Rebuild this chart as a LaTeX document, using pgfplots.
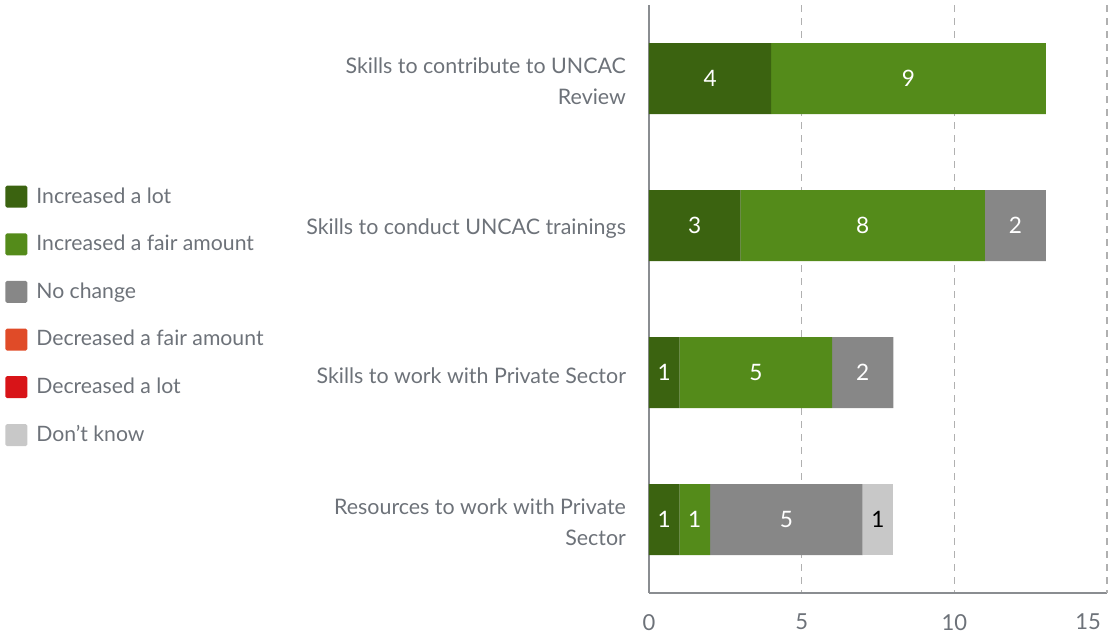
\documentclass[border=0pt]{standalone}
\usepackage{pgfplots}
\pgfplotsset{compat=1.18}
\usepackage{fontspec}
\setmainfont{Lato}
\definecolor{cA}{HTML}{3B6310}
\definecolor{cB}{HTML}{548B1A}
\definecolor{cC}{HTML}{878787}
\definecolor{cD}{HTML}{E04B28}
\definecolor{cE}{HTML}{D81418}
\definecolor{cF}{HTML}{C8C8C8}
\definecolor{txt}{HTML}{6D7279}
\definecolor{axgray}{HTML}{8A8D91}
\definecolor{gridgray}{HTML}{B0B0B0}
\begin{document}
\begin{tikzpicture}
\useasboundingbox (-324.5pt,-22.5pt) rectangle (232pt,296.5pt);
\begin{axis}[
  at={(0,0)}, anchor=south west,
  xbar stacked,
  scale only axis, width=229pt, height=294pt,
  xmin=0, xmax=15, ymin=-0.5, ymax=3.5, y dir=reverse,
  bar width=35.5pt,
  ytick={0,1,2,3},
  yticklabels={{Skills to contribute to UNCAC\\Review},{Skills to conduct UNCAC trainings},{Skills to work with Private Sector},{Resources to work with Private\\Sector}},
  yticklabel style={align=right, font=\fontsize{10.7}{15.5}\selectfont, text=txt, xshift=-8pt, yshift=-1.5pt},
  xtick={0,5,10},
  extra x ticks={15},
  extra x tick style={grid=major, xticklabel style={anchor=north east, xshift=0.5pt}},
  xticklabel style={text=txt, font=\fontsize{11}{12}\selectfont, yshift=-7pt},
  /pgf/number format/assume math mode=true,
  major tick length=0pt,
  axis x line*=bottom, axis y line*=left,
  axis line style={axgray, line width=0.8pt},
  xmajorgrids, grid style={dash pattern=on 3.5pt off 3pt, gridgray, line width=0.6pt},
  nodes near coords={\pgfmathfloatifflags{\pgfplotspointmeta}{0}{}{\pgfmathprintnumber{\pgfplotspointmeta}}},
  every node near coord/.append style={text=white, font=\fontsize{11.3}{12}\selectfont},
  legend cell align=left,
  legend image code/.code={\fill[#1, rounded corners=0.8pt] (0pt,-5.5pt) rectangle (11pt,5.5pt); \path (14pt,0pt);},
  legend style={at={(axis description cs:0,1)}, anchor=north west, xshift=-322pt, yshift=-89.5pt,
    draw=none, fill=none, inner sep=0pt, row sep=11.5pt,
    font=\fontsize{10.6}{12}\selectfont, text=txt,
    nodes={inner sep=1.5pt}},
]
\addplot[fill=cA, draw=none] coordinates {(4,0) (3,1) (1,2) (1,3)};
\addlegendentry{Increased a lot}
\addplot[fill=cB, draw=none] coordinates {(9,0) (8,1) (5,2) (1,3)};
\addlegendentry{Increased a fair amount}
\addplot[fill=cC, draw=none] coordinates {(0,0) (2,1) (2,2) (5,3)};
\addlegendentry{No change}
\addplot[fill=cD, draw=none] coordinates {(0,0) (0,1) (0,2) (0,3)};
\addlegendentry{Decreased a fair amount}
\addplot[fill=cE, draw=none] coordinates {(0,0) (0,1) (0,2) (0,3)};
\addlegendentry{Decreased a lot}
\addplot[fill=cF, draw=none, every node near coord/.append style={text=black}] coordinates {(0,0) (0,1) (0,2) (1,3)};
\addlegendentry{Don’t know}
\end{axis}
\end{tikzpicture}
\end{document}
